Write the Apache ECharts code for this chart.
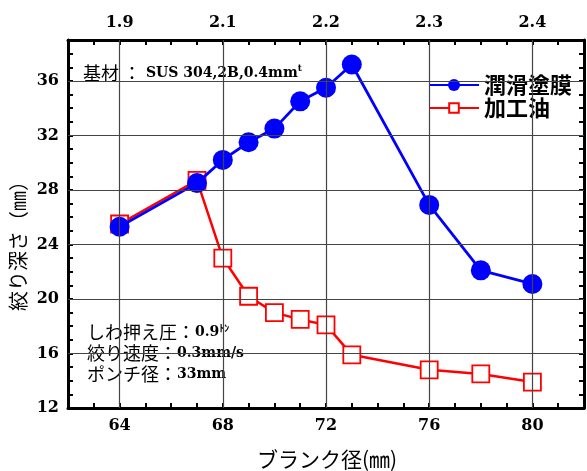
<!DOCTYPE html>
<html><head><meta charset="utf-8">
<script src="https://cdn.jsdelivr.net/npm/echarts@6/dist/echarts.min.js"></script>
<style>html,body{margin:0;padding:0;background:#fff}#c{width:587px;height:471px}</style>
</head><body><div id="c"></div>
<script>
// Data
const blankDia = [64, 67, 68, 69, 70, 71, 72, 73, 76, 78, 80];
const coated   = [25.3, 28.5, 30.2, 31.5, 32.5, 34.5, 35.5, 37.2, 26.9, 22.1, 21.1];
const oil      = [25.5, 28.7, 23.0, 20.2, 19.0, 18.5, 18.1, 15.9, 14.8, 14.5, 13.9];
const xMajor = [64, 68, 72, 76, 80];
const yMajor = [16, 20, 24, 28, 32, 36];
const topLabels = ['1.9', '2.1', '2.2', '2.3', '2.4'];
const seriesNames = ['潤滑塗膜', '加工油'];

const numFont = {fontFamily: 'DejaVu Serif', fontWeight: 'bold', fontSize: 16, color: '#000'};
const cjk = 'Noto Sans CJK JP';

const chart = echarts.init(document.getElementById('c'));
const axisLineStyle = {show: true, onZero: false, lineStyle: {color: '#000', width: 3}};
const tick = {show: true, inside: true, length: 5, lineStyle: {color: '#000', width: 2}};

chart.setOption({
  animation: false,
  backgroundColor: '#fff',
  grid: {left: 68, right: 0, top: 40, bottom: 63},
  xAxis: [
    {type: 'value', position: 'bottom', min: 62, max: 82, interval: 1,
     axisLine: axisLineStyle, axisTick: tick, splitLine: {show: false},
     axisLabel: Object.assign({margin: 10, formatter: v => xMajor.includes(v) ? String(v) : ''}, numFont)},
    {type: 'value', position: 'top', min: 62, max: 82, interval: 1,
     axisLine: axisLineStyle, axisTick: tick, splitLine: {show: false},
     axisLabel: Object.assign({margin: 9, formatter: v => { const i = xMajor.indexOf(v); return i >= 0 ? topLabels[i] : ''; }}, numFont)}
  ],
  yAxis: [
    {type: 'value', position: 'left', min: 12, max: 39, interval: 1,
     axisLine: axisLineStyle, axisTick: tick, splitLine: {show: false},
     axisLabel: Object.assign({margin: 9, formatter: v => (v % 4 === 0) ? String(v) : ''}, numFont)},
    {type: 'value', position: 'right', min: 12, max: 39, interval: 1,
     axisLine: axisLineStyle, axisTick: tick, splitLine: {show: false},
     axisLabel: {show: false}}
  ],
  legend: [
    {data: [seriesNames[0]], orient: 'vertical', left: 428, top: 74, padding: 0,
     itemWidth: 50, itemHeight: 15,
     textStyle: {fontFamily: cjk, fontWeight: 'bold', fontSize: 22, color: '#000'}},
    {data: [seriesNames[1]], orient: 'vertical', left: 428, top: 97, padding: 0,
     itemWidth: 50, itemHeight: 12,
     textStyle: {fontFamily: cjk, fontWeight: 'bold', fontSize: 22, color: '#000'}}
  ],
  series: [
    {type: 'line', name: 'grid', data: [], z: 1, silent: true,
     markLine: {silent: true, symbol: ['none', 'none'], label: {show: false},
       lineStyle: {color: '#444', width: 1.2, type: 'solid'},
       emphasis: {disabled: true},
       data: xMajor.map(v => ({xAxis: v})).concat(yMajor.map(v => ({yAxis: v})))}},
    {type: 'line', name: seriesNames[1], z: 3,
     data: blankDia.map((x, i) => [x, oil[i]]),
     symbol: 'rect', symbolSize: 17,
     lineStyle: {color: '#ff0000', width: 2.5},
     itemStyle: {color: '#ffffff', borderColor: '#ff0000', borderWidth: 1.8}},
    {type: 'line', name: seriesNames[0], z: 4,
     data: blankDia.map((x, i) => [x, coated[i]]),
     symbol: 'circle', symbolSize: 20,
     lineStyle: {color: '#0000ff', width: 2.8},
     itemStyle: {color: '#0000ff'}}
  ],
  graphic: [
    {type: 'text', x: 18, y: 241, rotation: Math.PI / 2,
     style: {text: '絞り深さ（㎜）', fontFamily: cjk, fontSize: 20, fill: '#000', textAlign: 'center', textVerticalAlign: 'middle'}},
    {type: 'text', x: 327, y: 459,
     style: {text: 'ブランク径(㎜)', fontFamily: cjk, fontSize: 21, fill: '#000', textAlign: 'center', textVerticalAlign: 'middle'}},
    {type: 'text', x: 83, y: 73,
     style: {text: '{c|基材 ：}{n| SUS 304,2B,0.4mm}{s|t}', textVerticalAlign: 'middle',
       rich: {c: {fontFamily: cjk, fontSize: 18, fill: '#000'},
              n: {fontFamily: 'DejaVu Serif', fontWeight: 'bold', fontSize: 14, fill: '#000'},
              s: {fontFamily: 'DejaVu Serif', fontWeight: 'bold', fontSize: 9, fill: '#000', verticalAlign: 'top'}}}},
    {type: 'text', x: 87, y: 332,
     style: {text: '{c|しわ押え圧：}{n|0.9}{s|ﾄﾝ}', textVerticalAlign: 'middle',
       rich: {c: {fontFamily: cjk, fontSize: 18, fill: '#000'},
              n: {fontFamily: 'DejaVu Serif', fontWeight: 'bold', fontSize: 14, fill: '#000'},
              s: {fontFamily: cjk, fontWeight: 'bold', fontSize: 10, fill: '#000', verticalAlign: 'top'}}}},
    {type: 'text', x: 87, y: 353,
     style: {text: '{c|絞り速度：}{n|0.3mm/s}', textVerticalAlign: 'middle',
       rich: {c: {fontFamily: cjk, fontSize: 18, fill: '#000'},
              n: {fontFamily: 'DejaVu Serif', fontWeight: 'bold', fontSize: 14, fill: '#000'}}}},
    {type: 'text', x: 87, y: 374,
     style: {text: '{c|ポンチ径：}{n|33mm}', textVerticalAlign: 'middle',
       rich: {c: {fontFamily: cjk, fontSize: 18, fill: '#000'},
              n: {fontFamily: 'DejaVu Serif', fontWeight: 'bold', fontSize: 14, fill: '#000'}}}}
  ]
});
</script>
</body></html>
